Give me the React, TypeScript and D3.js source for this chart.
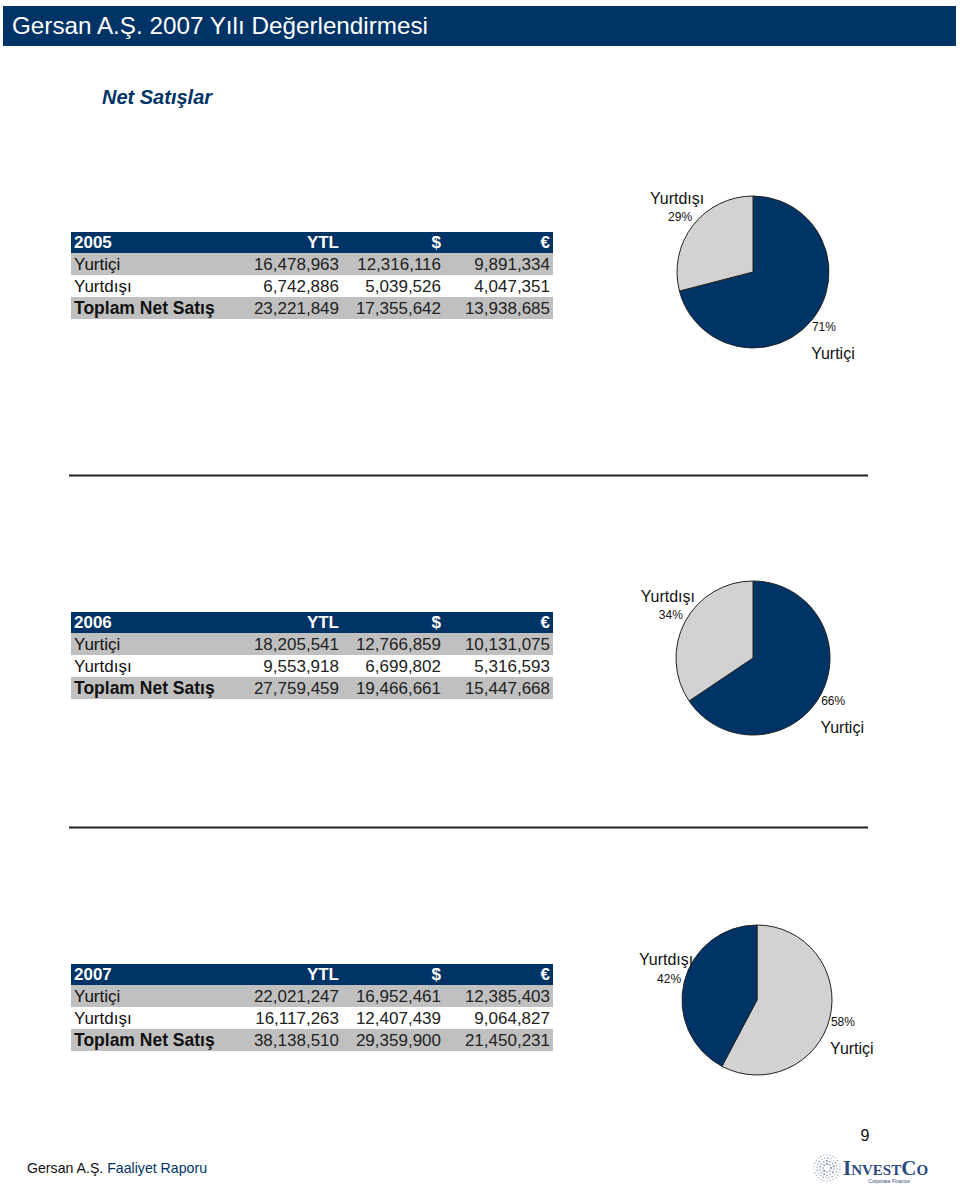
import React from "react";
import * as d3 from "d3";

const years = ["2005", "2006", "2007"];
const rowLabels = ["Yurtiçi", "Yurtdışı", "Toplam Net Satış"];
const currencies = ["YTL", "$", "€"];
const values2005 = [
  [16478963, 12316116, 9891334],
  [6742886, 5039526, 4047351],
  [23221849, 17355642, 13938685],
];
const values2006 = [
  [18205541, 12766859, 10131075],
  [9553918, 6699802, 5316593],
  [27759459, 19466661, 15447668],
];
const values2007 = [
  [22021247, 16952461, 12385403],
  [16117263, 12407439, 9064827],
  [38138510, 29359900, 21450231],
];
const pieCategories = ["Yurtiçi", "Yurtdışı"];

const NAVY = "#003366";
const GREY_ROW = "#C0C0C0";
const GREY_PIE = "#D2D2D2";

const panels = [
  { year: years[0], values: values2005, tableTop: 232, cx: 753, cy: 272, r: 76, colors: [NAVY, GREY_PIE] },
  { year: years[1], values: values2006, tableTop: 612, cx: 753, cy: 658, r: 77, colors: [NAVY, GREY_PIE] },
  { year: years[2], values: values2007, tableTop: 964, cx: 757, cy: 1000, r: 75, colors: [GREY_PIE, NAVY] },
];

const fmt = d3.format(",");
const tableLeft = 71;
const tableRight = 553;
const headerH = 21;
const rowH = 22;
const colX = d3.scaleOrdinal<string, number>().domain(currencies).range([339, 441, 550]);
const font = "'Liberation Sans', Arial, sans-serif";

function Table({ p }: { p: any }) {
  const rowY = d3
    .scaleBand<string>()
    .domain(rowLabels)
    .range([p.tableTop + headerH, p.tableTop + headerH + rowH * rowLabels.length]);
  return (
    <g>
      <rect x={tableLeft} y={p.tableTop} width={tableRight - tableLeft} height={headerH} fill={NAVY} />
      <text x={tableLeft + 3} y={p.tableTop + 16} fill="#fff" fontFamily={font} fontWeight="bold" fontSize={17}>
        {p.year}
      </text>
      {currencies.map((c) => (
        <text key={c} x={colX(c)} y={p.tableTop + 16} fill="#fff" fontFamily={font} fontWeight="bold" fontSize={17} textAnchor="end">
          {c}
        </text>
      ))}
      {rowLabels.map((lab, i) => {
        const y = rowY(lab)!;
        const bold = i === 2;
        return (
          <g key={lab}>
            <rect x={tableLeft} y={y} width={tableRight - tableLeft} height={rowY.bandwidth()} fill={i === 1 ? "#fff" : GREY_ROW} />
            <text x={tableLeft + 3} y={y + 17} fill="#111" fontFamily={font} fontWeight={bold ? "bold" : "normal"} fontSize={bold ? 17.5 : 17}>
              {lab}
            </text>
            {currencies.map((c, j) => (
              <text key={c} x={colX(c)} y={y + 17} fill="#222" fontFamily={font} fontSize={17} textAnchor="end">
                {fmt(p.values[i][j])}
              </text>
            ))}
          </g>
        );
      })}
    </g>
  );
}

function Pie({ p }: { p: any }) {
  const pieVals = [p.values[0][0], p.values[1][0]];
  const total = d3.sum(pieVals);
  const arcs = d3
    .pie<number>()
    .sort(null)
    .startAngle(0)
    .endAngle(2 * Math.PI)(pieVals);
  const arc = d3.arc<d3.PieArcDatum<number>>().innerRadius(0).outerRadius(p.r);
  const labelArc = d3.arc<d3.PieArcDatum<number>>().innerRadius(p.r * 1.18).outerRadius(p.r * 1.18);
  return (
    <g transform={`translate(${p.cx},${p.cy})`}>
      {arcs.map((a, i) => (
        <path key={i} d={arc(a)!} fill={p.colors[i]} stroke="#222" strokeWidth={1} />
      ))}
      {arcs.map((a, i) => {
        const [lx, ly] = labelArc.centroid(a);
        const pct = Math.round((a.data / total) * 100) + "%";
        const isDom = i === 0;
        return (
          <g key={"l" + i}>
            <text x={lx - (isDom ? 0 : 2)} y={ly} dy="0.35em" textAnchor="middle" fontFamily={font} fontSize={12} fill="#111">
              {pct}
            </text>
            <text
              x={lx + (isDom ? 9 : -5)}
              y={ly + (isDom ? 27 : -19)}
              dy="0.35em"
              textAnchor="middle"
              fontFamily={font}
              fontSize={16}
              fill="#111"
            >
              {pieCategories[i]}
            </text>
          </g>
        );
      })}
    </g>
  );
}

function Logo() {
  const cx = 827;
  const cy = 1168;
  const dots: { x: number; y: number; r: number }[] = [];
  const rings = [4, 7, 10, 13];
  rings.forEach((rr, k) => {
    const n = 8 + k * 6;
    for (let i = 0; i < n; i++) {
      const ang = (i / n) * 2 * Math.PI + k * 0.2;
      dots.push({ x: cx + rr * Math.cos(ang), y: cy + rr * Math.sin(ang), r: 1.1 - k * 0.15 });
    }
  });
  return (
    <g>
      {dots.map((d, i) => (
        <circle key={i} cx={d.x} cy={d.y} r={d.r} fill={i % 3 === 0 ? "#7a8fb0" : "#aab6cc"} />
      ))}
      <text x={843} y={1175} fontFamily="'Liberation Serif', serif" fontWeight="bold" fill="#2b4a80" fontSize={21}>
        I<tspan fontSize={15}>NVEST</tspan>C<tspan fontSize={15}>O</tspan>
      </text>
      <text x={889} y={1183} fontFamily={font} fill="#2b4a80" fontSize={5} textAnchor="middle">
        Corporate Finance
      </text>
    </g>
  );
}

export default function App() {
  return (
    <svg
      width={960}
      height={1192}
      viewBox="0 0 960 1192"
      style={{ position: "absolute", left: 0, top: 0, background: "#fff" }}
    >
      <rect x={0} y={0} width={960} height={1192} fill="#fff" />
      <rect x={3} y={6} width={953} height={40} fill={NAVY} />
      <text x={12} y={34} fill="#fff" fontFamily={font} fontSize={24} textLength={416} lengthAdjust="spacingAndGlyphs">
        Gersan A.Ş. 2007 Yılı Değerlendirmesi
      </text>
      <text x={102} y={104} fill={NAVY} fontFamily={font} fontSize={20} fontWeight="bold" fontStyle="italic">
        Net Satışlar
      </text>
      {panels.map((p) => (
        <g key={p.year}>
          <Table p={p} />
          <Pie p={p} />
        </g>
      ))}
      <line x1={69} x2={868} y1={475.5} y2={475.5} stroke="#222" strokeWidth={2} />
      <line x1={69} x2={868} y1={827.5} y2={827.5} stroke="#222" strokeWidth={2} />
      <text x={865} y={1141} fontFamily={font} fontSize={16} fill="#111" textAnchor="middle">
        9
      </text>
      <text x={27} y={1173} fontFamily={font} fontSize={15} fill="#111" textLength={180} lengthAdjust="spacingAndGlyphs">
        Gersan A.Ş. <tspan fill={NAVY}> Faaliyet Raporu</tspan>
      </text>
      <Logo />
    </svg>
  );
}
